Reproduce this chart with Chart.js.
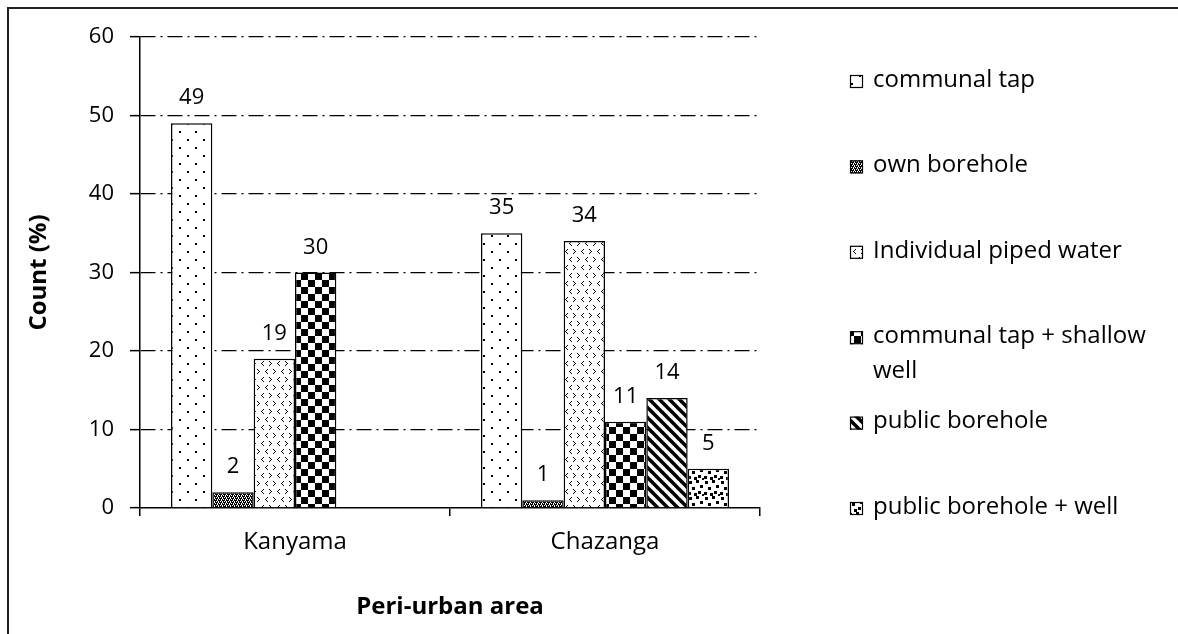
<!DOCTYPE html>
<html>
<head>
<meta charset="utf-8">
<script src="https://cdn.jsdelivr.net/npm/chart.js@4/dist/chart.umd.min.js"></script>
<style>
  html, body { margin: 0; padding: 0; background: #fff; }
  #wrap { width: 1178px; height: 634px; position: relative; }
</style>
</head>
<body>
<div id="wrap"><canvas id="chart"></canvas></div>
<script>
// Water source by peri-urban area (percent of households)
const areas = ['Kanyama', 'Chazanga'];
const sourceNames = [
  'communal tap',
  'own borehole',
  'Individual piped water',
  'communal tap + shallow well',
  'public borehole',
  'public borehole + well'
];
const communalTap        = [49, 35];
const ownBorehole        = [2, 1];
const pipedWater         = [19, 34];
const tapShallowWell     = [30, 11];
const publicBorehole     = [null, 14];
const publicBoreholeWell = [null, 5];
const yTickValues = [0, 10, 20, 30, 40, 50, 60];

const FONT = '"Open Sans"';

// ---- monochrome fill patterns ----
function makePattern(w, h, draw) {
  const c = document.createElement('canvas');
  c.width = w; c.height = h;
  const g = c.getContext('2d');
  g.fillStyle = '#fff';
  g.fillRect(0, 0, w, h);
  g.fillStyle = '#000';
  g.strokeStyle = '#000';
  draw(g);
  return g.createPattern(c, 'repeat');
}
function fromMap(rows) {
  return g => rows.forEach((r, y) => [...r].forEach((ch, x) => { if (ch === 'X') g.fillRect(x, y, 1, 1); }));
}

const patDots = makePattern(16, 16, g => {
  g.fillRect(3, 3, 2, 2);
  g.fillRect(11, 11, 2, 2);
});
const patDense = makePattern(4, 4, fromMap([
  'X.XX',
  '.X.X',
  'XX.X',
  'X.X.'
]));
const patChevron = makePattern(16, 16, g => {
  const right = (x, y) => { g.fillRect(x, y, 1, 1); g.fillRect(x + 1, y + 1, 1, 1); g.fillRect(x + 2, y + 2, 1, 1); g.fillRect(x + 1, y + 3, 1, 1); g.fillRect(x, y + 4, 1, 1); };
  const left = (x, y) => { g.fillRect(x + 2, y, 1, 1); g.fillRect(x + 1, y + 1, 1, 1); g.fillRect(x, y + 2, 1, 1); g.fillRect(x + 1, y + 3, 1, 1); g.fillRect(x + 2, y + 4, 1, 1); };
  right(1, 1); left(9, 1); left(5, 9); right(13, 9);
});
const patChecker = makePattern(14, 14, g => {
  g.fillRect(0, 0, 7, 7);
  g.fillRect(7, 7, 7, 7);
});
const patDiagonal = makePattern(10, 10, g => {
  g.lineWidth = 3.6;
  for (const k of [-10, 0, 10]) {
    g.beginPath();
    g.moveTo(k - 3, -3);
    g.lineTo(k + 13, 13);
    g.stroke();
  }
});
const patConfetti = makePattern(16, 16, g => {
  [[1, 1], [8, 0], [12, 5], [4, 7], [10, 11], [0, 12], [6, 13], [14, 14]]
    .forEach(([x, y]) => g.fillRect(x, y, 3, 3));
});

const seriesValues = [communalTap, ownBorehole, pipedWater, tapShallowWell, publicBorehole, publicBoreholeWell];
const seriesFills = [patDots, patDense, patChevron, patChecker, patDiagonal, patConfetti];

const datasets = sourceNames.map((name, i) => ({
  label: name,
  data: seriesValues[i],
  backgroundColor: seriesFills[i],
  borderColor: '#000',
  borderWidth: 1.5,
  borderSkipped: 'start'
}));

// value labels above each bar
const valueLabels = {
  id: 'valueLabels',
  afterDatasetsDraw(chart) {
    const ctx = chart.ctx;
    ctx.save();
    ctx.font = `22px ${FONT}`;
    ctx.fillStyle = '#000';
    ctx.textAlign = 'center';
    ctx.textBaseline = 'alphabetic';
    chart.data.datasets.forEach((ds, di) => {
      const meta = chart.getDatasetMeta(di);
      meta.data.forEach((bar, j) => {
        const v = ds.data[j];
        if (v === null || v === undefined) return;
        ctx.fillText(String(v), bar.x, bar.y - 19);
      });
    });
    ctx.restore();
  }
};

// legend column at the right with wrapped labels
const sideLegend = {
  id: 'sideLegend',
  afterDraw(chart) {
    const ctx = chart.ctx;
    const swX = 850, txtX = 873, maxW = 290, firstY = 80, step = 85.4, lineH = 35;
    ctx.save();
    ctx.font = `24px ${FONT}`;
    ctx.textBaseline = 'middle';
    ctx.textAlign = 'left';
    chart.data.datasets.forEach((ds, i) => {
      const y = firstY + i * step;
      ctx.fillStyle = ds.backgroundColor;
      ctx.fillRect(swX, y - 5, 13, 13);
      ctx.strokeStyle = '#000';
      ctx.lineWidth = 1.2;
      ctx.strokeRect(swX + 0.5, y - 4.5, 12, 12);
      // word wrap
      const words = ds.label.split(' ');
      const lines = [];
      let cur = '';
      words.forEach(w => {
        const test = cur ? cur + ' ' + w : w;
        if (ctx.measureText(test).width > maxW && cur) { lines.push(cur); cur = w; }
        else cur = test;
      });
      lines.push(cur);
      ctx.fillStyle = '#000';
      lines.forEach((ln, k) => ctx.fillText(ln, txtX, y + k * lineH));
    });
    ctx.restore();
  }
};

// outer chart frame (top and left edges)
const frame = {
  id: 'frame',
  afterDraw(chart) {
    const ctx = chart.ctx;
    ctx.save();
    ctx.strokeStyle = '#222';
    ctx.lineWidth = 2;
    ctx.beginPath();
    ctx.moveTo(8, chart.height);
    ctx.lineTo(8, 8);
    ctx.lineTo(chart.width, 8);
    ctx.stroke();
    ctx.restore();
  }
};

Chart.defaults.font.family = FONT;
Chart.defaults.color = '#000';

new Chart(document.getElementById('chart'), {
  type: 'bar',
  data: { labels: areas, datasets },
  options: {
    responsive: true,
    maintainAspectRatio: false,
    animation: false,
    layout: { padding: { left: 8, right: 418, top: 37, bottom: 0 } },
    datasets: { bar: { categoryPercentage: 0.8, barPercentage: 1.0 } },
    plugins: { legend: { display: false }, tooltip: { enabled: false } },
    scales: {
      x: {
        afterFit(scale) { scale.height = 126; },
        grid: {
          offset: true,
          drawOnChartArea: false,
          drawTicks: true,
          tickLength: 8,
          color: '#000',
          tickColor: '#000',
          lineWidth: 1.5
        },
        border: { display: true, color: '#000', width: 1.5 },
        ticks: { font: { size: 24 }, padding: 12, color: '#000' },
        title: {
          display: true,
          text: 'Peri-urban area',
          font: { size: 24, weight: 'bold' },
          color: '#000',
          padding: { top: 0, bottom: 12 }
        }
      },
      y: {
        min: 0,
        max: 60,
        afterFit(scale) { scale.width = 132; },
        afterBuildTicks(scale) { scale.ticks = yTickValues.map(v => ({ value: v })); },
        grid: {
          color: ctx => (ctx.tick && ctx.tick.value === 0) ? 'rgba(0,0,0,0)' : '#000',
          lineWidth: 1.3,
          tickColor: '#000',
          tickLength: 10,
          tickBorderDash: [],
          tickWidth: 1.5
        },
        border: { display: true, color: '#000', width: 1.5, dash: [15, 5, 2, 5] },
        ticks: { font: { size: 22 }, padding: 16, color: '#000' },
        title: {
          display: true,
          text: 'Count (%)',
          font: { size: 24, weight: 'bold' },
          color: '#000',
          padding: { top: 17, bottom: 0 }
        }
      }
    }
  },
  plugins: [valueLabels, sideLegend, frame]
});
</script>
</body>
</html>
